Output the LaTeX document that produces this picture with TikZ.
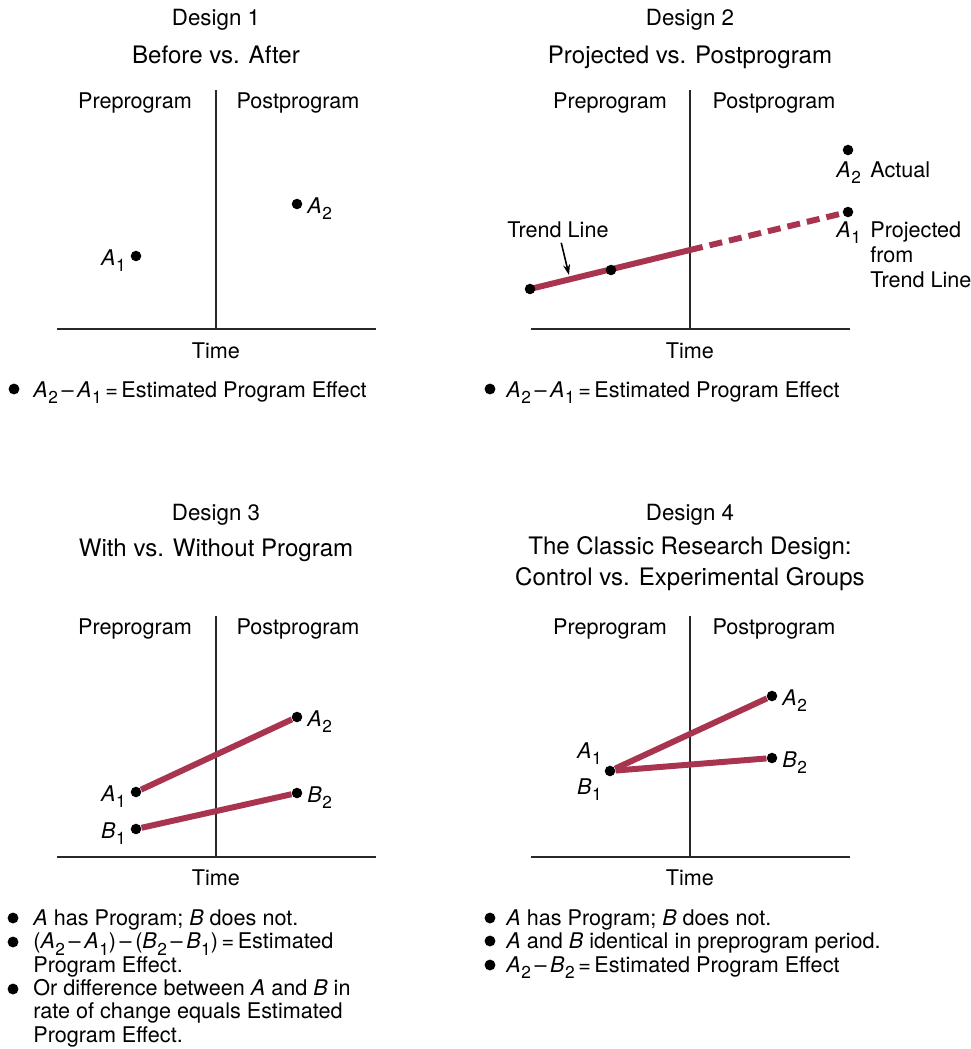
\documentclass[tikz,border=0pt]{standalone}
\usepackage{fontspec}
\setmainfont{TeX Gyre Heros}
\usetikzlibrary{arrows.meta}
\definecolor{trendred}{RGB}{168,52,80}
\definecolor{axisgray}{RGB}{40,40,40}
\newcommand{\vsub}[2]{\textit{#1}\kern0.3pt\smash{\raisebox{-0.32em}{\scalebox{0.8}{#2}}}}
\tikzset{
  txt/.style={inner sep=0pt,anchor=base},
  title/.style={txt,font=\fontsize{12.7}{14}\selectfont},
  subtitle/.style={txt,font=\fontsize{13.7}{15}\selectfont},
  dot/.style={circle,fill=black,inner sep=0pt,minimum size=6pt},
  bul/.style={circle,fill=black,inner sep=0pt,minimum size=6.2pt},
  bultext/.style={inner sep=0pt,anchor=base west,align=left},
  lblleft/.style={inner sep=0pt,anchor=base east,shift={(-10,9)}},
  lblright/.style={inner sep=0pt,anchor=base west,shift={(10,9)}},
  axisline/.style={line width=1.1pt,axisgray},
  trend/.style={line width=3.4pt,trendred},
  projected/.style={trend,dash pattern=on 7.4pt off 4pt},
}
\begin{document}
\begin{tikzpicture}[x=0.02cm,y=-0.02cm,font=\fontsize{12.3}{13.3}\selectfont]
\useasboundingbox (0,0) rectangle (971,1049);

% Design 1
\node[title] (d1) at (216,25) {Design 1};
\node[subtitle] (s1) at (216,63) {Before vs. After};
\node[txt] (pre1) at (135,108) {Preprogram};
\node[txt] (post1) at (298,108) {Postprogram};
\coordinate (v1) at (216,90);
\coordinate (o1) at (216,329);
\coordinate (l1) at (57,329);
\coordinate (r1) at (376,329);
\draw[axisline] (v1) -- (o1);
\draw[axisline] (l1) -- (r1);
\node[txt] (time1) at (216,358) {Time};
\node[dot] (a11) at (136,256) {};
\node[dot] (a12) at (297,204) {};
\node[lblleft] (la11) at (a11) {\vsub{A}{1}};
\node[lblright] (la12) at (a12) {\vsub{A}{2}};
\node[bul] (b11) at (14,389) {};
\node[bultext] (e1) at (33,397) {\vsub{A}{2}\,--\,\vsub{A}{1}\,=\,Estimated Program Effect};

% Design 2
\node[title] (d2) at (690,25) {Design 2};
\node[subtitle] (s2) at (690,63) {Projected vs. Postprogram};
\node[txt] (pre2) at (610,108) {Preprogram};
\node[txt] (post2) at (774,108) {Postprogram};
\coordinate (v2) at (690,90);
\coordinate (o2) at (690,329);
\coordinate (l2) at (531,329);
\coordinate (r2) at (850,329);
\draw[axisline] (v2) -- (o2);
\draw[axisline] (l2) -- (r2);
\node[txt] (time2) at (690,358) {Time};
\coordinate (m2) at (690,250);
\draw[trend] (530,289) coordinate (t1) -- (m2);
\draw[projected] (m2) -- (848,212);
\node[dot] (t1d) at (t1) {};
\node[dot] (t2) at (611,270) {};
\node[dot] (proj) at (848,212) {};
\node[dot] (act) at (848,150) {};
\node[txt,anchor=base west] (la22) at (836,177) {\vsub{A}{2}};
\node[txt,anchor=base west] (actl) at (870,177) {Actual};
\node[txt,anchor=base west] (la21) at (836,237) {\vsub{A}{1}};
% base of a multi-line node = its last line
\node[bultext,font=\fontsize{12.3}{14.2}\selectfont] (projl) at (870,287) {Projected\\from\\Trend Line};
\node[txt] (trendl) at (558,237) {Trend Line};
\coordinate (tip) at (569,275);
\draw[line width=0.9pt,-{Stealth[length=6pt,width=4pt]},shorten <=3pt] (trendl) -- (tip);
\node[bul] (b21) at (490,389) {};
\node[bultext] (e2) at (506,397) {\vsub{A}{2}\,--\,\vsub{A}{1}\,=\,Estimated Program Effect};

% Design 3
\node[title] (d3) at (216,520) {Design 3};
\node[subtitle] (s3) at (216,556) {With vs. Without Program};
\node[txt] (pre3) at (135,634) {Preprogram};
\node[txt] (post3) at (298,634) {Postprogram};
\coordinate (v3) at (216,616);
\coordinate (o3) at (216,857);
\coordinate (l3) at (57,857);
\coordinate (r3) at (376,857);
\draw[axisline] (v3) -- (o3);
\draw[axisline] (l3) -- (r3);
\node[txt] (time3) at (216,885) {Time};
\node[dot] (a31) at (136,792) {};
\node[dot] (a32) at (297,717) {};
\node[dot] (b31) at (136,829) {};
\node[dot] (b32) at (297,793) {};
\draw[trend] (a31) -- (a32);
\draw[trend] (b31) -- (b32);
\node[lblleft] (la31) at (a31) {\vsub{A}{1}};
\node[lblright] (la32) at (a32) {\vsub{A}{2}};
\node[lblleft] (lb31) at (b31) {\vsub{B}{1}};
\node[lblright] (lb32) at (b32) {\vsub{B}{2}};
\node[bul] (b31i) at (13,918) {};
\node[bul] (b32i) at (13,942) {};
\node[bul] (b33i) at (13,989) {};
\node[bultext] (e31) at (33,925) {\textit{A} has Program; \textit{B} does not.};
\node[bultext] (e32) at (33,972) {(\vsub{A}{2}\,--\,\vsub{A}{1})\,--\,(\vsub{B}{2}\,--\,\vsub{B}{1})\,=\,Estimated\\Program Effect.};
\node[bultext] (e33) at (33,1042) {Or difference between \textit{A} and \textit{B} in\\rate of change equals Estimated\\Program Effect.};

% Design 4
\node[title] (d4) at (690,520) {Design 4};
\node[subtitle] (s4) at (690,554) {The Classic Research Design:};
\node[subtitle] (s4b) at (690,585) {Control vs. Experimental Groups};
\node[txt] (pre4) at (610,634) {Preprogram};
\node[txt] (post4) at (774,634) {Postprogram};
\coordinate (v4) at (690,616);
\coordinate (o4) at (690,857);
\coordinate (l4) at (531,857);
\coordinate (r4) at (850,857);
\draw[axisline] (v4) -- (o4);
\draw[axisline] (l4) -- (r4);
\node[txt] (time4) at (690,885) {Time};
\node[dot] (ab41) at (610,771) {};
\node[dot] (a42) at (772,696) {};
\node[dot] (b42) at (772,758) {};
\draw[trend] (ab41) -- (a42);
\draw[trend] (ab41) -- (b42);
\node[inner sep=0pt,anchor=base east] (la41) at (602,758) {\vsub{A}{1}};
\node[inner sep=0pt,anchor=base east] (lb41) at (602,794) {\vsub{B}{1}};
\node[lblright] (la42) at (a42) {\vsub{A}{2}};
\node[lblright] (lb42) at (b42) {\vsub{B}{2}};
\node[bul] (b41i) at (490,918) {};
\node[bul] (b42i) at (490,941) {};
\node[bul] (b43i) at (490,965) {};
\node[bultext] (e41) at (506,925) {\textit{A} has Program; \textit{B} does not.};
\node[bultext] (e42) at (506,948) {\textit{A} and \textit{B} identical in preprogram period.};
\node[bultext] (e43) at (506,972) {\vsub{A}{2}\,--\,\vsub{B}{2}\,=\,Estimated Program Effect};
\end{tikzpicture}
\end{document}
